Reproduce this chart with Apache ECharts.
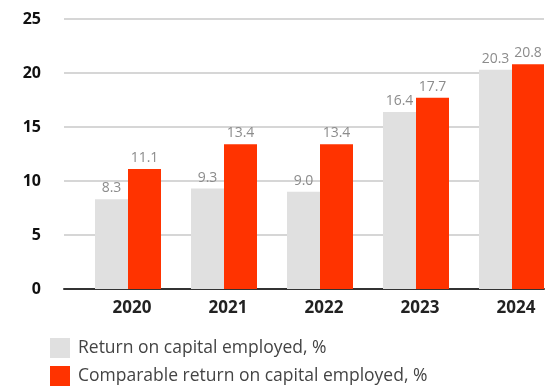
<!DOCTYPE html>
<html><head><meta charset="utf-8">
<script src="https://cdn.jsdelivr.net/npm/echarts@6/dist/echarts.min.js"></script>
<style>html,body{margin:0;padding:0;background:#fff}#c{width:549px;height:387px}</style>
</head><body><div id="c"></div>
<script>
const categories = ['2020', '2021', '2022', '2023', '2024'];
const roce = [8.3, 9.3, 9.0, 16.4, 20.3];
const comparableRoce = [11.1, 13.4, 13.4, 17.7, 20.8];
const spacer = [0, 0, 0, 0, 0];
const seriesNames = ['Return on capital employed, %', 'Comparable return on capital employed, %'];
const yTicks = { min: 0, max: 25, interval: 5 };

const chart = echarts.init(document.getElementById('c'));
const valLabel = {
  show: true, position: 'top', distance: 4,
  color: '#8c8c8c', fontSize: 14, fontFamily: 'Open Sans',
  formatter: p => p.value.toFixed(1)
};
chart.setOption({
  animation: false,
  grid: { left: 64, right: 5, top: 19, bottom: 98 },
  legend: {
    data: seriesNames, orient: 'vertical', left: 50, top: 338, height: 60,
    itemWidth: 20, itemHeight: 20, itemGap: 8, icon: 'rect', padding: 0,
    textStyle: { fontSize: 17.5, color: '#444', fontFamily: 'Open Sans', padding: [0, 0, 0, 3] }
  },
  xAxis: {
    type: 'category', data: categories,
    axisLine: { lineStyle: { color: '#333', width: 2 } },
    axisTick: { show: false },
    axisLabel: { color: '#222', fontWeight: 'bold', fontSize: 17, fontFamily: 'Open Sans', margin: 11, padding: [0, 0, 0, 40] }
  },
  yAxis: {
    type: 'value', min: yTicks.min, max: yTicks.max, interval: yTicks.interval,
    axisLine: { show: false }, axisTick: { show: false },
    axisLabel: { color: '#111', fontWeight: 'bold', fontSize: 16, fontFamily: 'Open Sans', margin: 23 },
    splitLine: { lineStyle: { color: '#c8c8c8', width: 1.5 } }
  },
  series: [
    { name: 'spacer', type: 'bar', data: spacer, barWidth: 32, barGap: 0, silent: true,
      itemStyle: { color: 'rgba(0,0,0,0)' }, label: { show: false } },
    { name: seriesNames[0], type: 'bar', data: roce, barWidth: 33, barGap: 0,
      itemStyle: { color: '#e0e0e0' }, label: valLabel },
    { name: seriesNames[1], type: 'bar', data: comparableRoce, barWidth: 33, barGap: 0,
      itemStyle: { color: '#ff3300' }, label: valLabel }
  ]
});
</script></body></html>
